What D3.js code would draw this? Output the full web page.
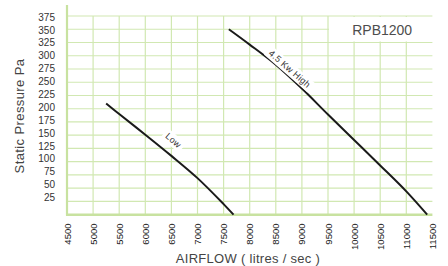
<!DOCTYPE html>
<html>
<head>
<meta charset="utf-8">
<script src="https://cdn.jsdelivr.net/npm/d3@7"></script>
<style>
  body { margin: 0; background: #fff; }
  svg { display: block; font-family: Arial, "Liberation Sans", sans-serif; }
</style>
</head>
<body>
<svg id="chart" width="448" height="266"></svg>
<script>
// data
var xTicks = [4500, 5000, 5500, 6000, 6500, 7000, 7500, 8000, 8500, 9000, 9500, 10000, 10500, 11000, 11500];
var yTicks = [25, 50, 75, 100, 125, 150, 175, 200, 225, 250, 275, 300, 325, 350, 375];
var lowCurve = [[5250, 210], [5500, 190], [6000, 151], [6500, 111], [7000, 69], [7500, 20], [7690, 0]];
var highCurve = [[7600, 350], [8000, 321], [8500, 283], [9000, 238], [9500, 189], [10000, 141], [10500, 93], [11000, 44], [11400, 0]];
var curveLabels = [{text: "Low", x: 6536, y: 140}, {text: "4.5 Kw High", x: 8765, y: 275}];
var modelName = "RPB1200";

var gridColor = "#d1e8b2", axisColor = "#c8e2a0";

var svg = d3.select("#chart");
var x = d3.scaleLinear().domain([4500, 11500]).range([67, 432.4]);
var y = d3.scaleLinear().domain([0, 375]).range([214.7, 16]);
// the tick labels in the original sit a bit compressed against the grid
var yLab = d3.scaleLinear().domain([25, 375]).range([197.6, 17.2]);

var grid = svg.append("g");
//horizontal grid lines
grid.selectAll("line.h").data(yTicks).enter().append("line")
  .attr("x1", x(4500)).attr("x2", x(11500))
  .attr("y1", function(d){return y(d);}).attr("y2", function(d){return y(d);})
  .attr("stroke", gridColor).attr("stroke-width", 1.2);
//vertical grid lines
grid.selectAll("line.v").data(xTicks.slice(1, -1)).enter().append("line")
  .attr("x1", function(d){return x(d);}).attr("x2", function(d){return x(d);})
  .attr("y1", y(375)).attr("y2", y(0))
  .attr("stroke", gridColor).attr("stroke-width", 1.2);

//axis lines
svg.append("line").attr("x1", x(4500)).attr("x2", x(4500)).attr("y1", 5).attr("y2", y(0) + 1)
  .attr("stroke", axisColor).attr("stroke-width", 2.2);
svg.append("line").attr("x1", x(4500) - 1).attr("x2", x(11500)).attr("y1", y(0)).attr("y2", y(0))
  .attr("stroke", axisColor).attr("stroke-width", 2.4);

//model box
svg.append("rect").attr("x", x(9500) + 1).attr("y", y(375) + 1)
  .attr("width", x(11500) - x(9500)).attr("height", y(325) - y(375) - 2).attr("fill", "#fff");
svg.append("text").attr("x", (x(9500) + x(11500)) / 2 + 2).attr("y", (y(350)) + 1)
  .attr("text-anchor", "middle").attr("dominant-baseline", "central")
  .attr("font-size", 14).attr("fill", "#4d4d4d").text(modelName);

//curves
var line = d3.line().x(function(d){return x(d[0]);}).y(function(d){return y(d[1]);}).curve(d3.curveCatmullRom);
[lowCurve, highCurve].forEach(function(c){
  svg.append("path").attr("d", line(c)).attr("fill", "none")
    .attr("stroke", "#1a1a1a").attr("stroke-width", 2);
});

//curve labels with white backing
curveLabels.forEach(function(l){
  var g = svg.append("g").attr("transform", "translate(" + x(l.x) + "," + y(l.y) + ") rotate(41)");
  var bg = g.append("rect").attr("fill", "#fff");
  var t = g.append("text").attr("text-anchor", "middle").attr("dominant-baseline", "central")
    .attr("font-size", 9).attr("letter-spacing", 0.3).attr("fill", "#333").text(l.text);
  var bb = t.node().getBBox();
  bg.attr("x", bb.x - 3).attr("y", bb.y - 1).attr("width", bb.width + 6).attr("height", bb.height + 2);
});

//y tick labels
svg.selectAll("text.yt").data(yTicks).enter().append("text")
  .attr("x", 55).attr("y", function(d){return yLab(d);})
  .attr("text-anchor", "end").attr("dominant-baseline", "central")
  .attr("font-size", 10).attr("fill", "#333").text(function(d){return d;});

//x tick labels
svg.selectAll("text.xt").data(xTicks).enter().append("text")
  .attr("transform", function(d){return "translate(" + x(d) + ",223.5) rotate(-90)";})
  .attr("text-anchor", "end").attr("dominant-baseline", "central")
  .attr("font-size", 9.5).attr("fill", "#222").text(function(d){return d;});

//axis titles
svg.append("text").attr("transform", "translate(19,116) rotate(-90)")
  .attr("text-anchor", "middle").attr("dominant-baseline", "central")
  .attr("font-size", 13).attr("letter-spacing", 0.4).attr("fill", "#444").text("Static Pressure Pa");
svg.append("text").attr("x", 248).attr("y", 258)
  .attr("text-anchor", "middle").attr("dominant-baseline", "central")
  .attr("font-size", 13).attr("letter-spacing", 0.3).attr("fill", "#444").text("AIRFLOW ( litres / sec )");
</script>
</body>
</html>
